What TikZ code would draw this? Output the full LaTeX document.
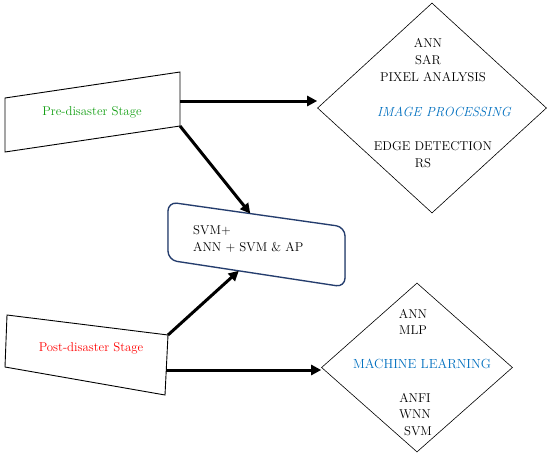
\documentclass[tikz,border=0pt]{standalone}
\usetikzlibrary{shapes.geometric,arrows.meta,calc}
\definecolor{stagegreen}{RGB}{20,160,20}
\definecolor{techblue}{RGB}{0,112,192}
\definecolor{boxblue}{RGB}{35,60,110}
\tikzset{
  stagebox/.style={draw=black,line width=0.9pt,fill=white},
  techdiamond/.style={diamond,draw=black,line width=0.6pt,fill=white,inner sep=0pt},
  bigarrow/.style={line width=3pt,-{Triangle[length=10pt,width=10pt]}},
  lbl/.style={font=\fontsize{12.8}{14}\selectfont,inner sep=0pt},
  head/.style={font=\fontsize{13.2}{15}\selectfont,inner sep=0pt,text=techblue}
}
\begin{document}
\begin{tikzpicture}[x=1pt,y=-1pt]
\useasboundingbox (0,0) rectangle (550,458);
% stage boxes
\coordinate (preTL) at (5,98);
\coordinate (preTR) at (180,72);
\coordinate (preBR) at (180,126);
\coordinate (preBL) at (5,152);
\draw[stagebox] (preTL) -- (preTR) -- (preBR) -- (preBL) -- cycle;
\node[lbl,text=stagegreen] (pre) at (92,112) {Pre-disaster Stage};
\coordinate (preR) at (180,101);

\coordinate (postTL) at (7,315);
\coordinate (postTR) at (168,335);
\coordinate (postBR) at (165,395);
\coordinate (postBL) at (5,367);
\draw[stagebox] (postTL) -- (postTR) -- (postBR) -- (postBL) -- cycle;
\node[lbl,text=red] (post) at (91,348) {Post-disaster Stage};
\coordinate (postR) at (166,370);

% SVM box
\coordinate (svmTL) at (168,202);
\coordinate (svmTR) at (345,227);
\coordinate (svmBR) at (345,287);
\coordinate (svmBL) at (168,260);
\draw[gray!40,line width=1.5pt,rounded corners=9pt,shift={(1.5pt,-1.5pt)}] (svmTL) -- (svmTR) -- (svmBR) -- (svmBL) -- cycle;
\draw[boxblue,line width=1.3pt,rounded corners=9pt,fill=white] (svmTL) -- (svmTR) -- (svmBR) -- (svmBL) -- cycle;
\node[lbl,anchor=west] (svm1) at (193,230) {SVM+};
\node[lbl,anchor=west] (svm2) at (193,247) {ANN + SVM \& AP};
\coordinate (svmTop) at ($(svmTL)!0.465!(svmTR)$);
\coordinate (svmBot) at ($(svmBL)!0.4!(svmBR)$);

% diamonds
\node[techdiamond,minimum width=229pt,minimum height=210pt] (ip) at (432,108) {};
\node[lbl] (ip1) at (428,43) {ANN};
\node[lbl] (ip2) at (428,60) {SAR};
\node[lbl] (ip3) at (433,77) {PIXEL ANALYSIS};
\node[head,font=\fontsize{13.2}{15}\selectfont\itshape] (iph) at (444,112) {IMAGE PROCESSING};
\node[lbl] (ip4) at (433,146) {EDGE DETECTION};
\node[lbl] (ip5) at (423,163) {RS};

\node[techdiamond,minimum width=191pt,minimum height=169pt] (ml) at (417,367.5) {};
\node[lbl] (ml1) at (413,314) {ANN};
\node[lbl] (ml2) at (413,330) {MLP};
\node[head] (mlh) at (422,364) {MACHINE LEARNING};
\node[lbl] (ml3) at (415,398) {ANFI};
\node[lbl] (ml4) at (415,414) {WNN};
\node[lbl] (ml5) at (418,431) {SVM};

% arrows
\draw[bigarrow] (preR) -- (preR -| ip.west);
\draw[bigarrow] (preBR) -- (svmTop);
\draw[bigarrow] (postTR) -- (svmBot);
\draw[bigarrow] (postR) -- (postR -| ml.west);
\end{tikzpicture}
\end{document}
